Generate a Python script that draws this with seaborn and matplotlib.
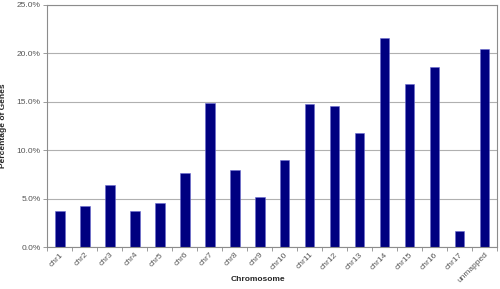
import matplotlib
matplotlib.use("Agg")
import matplotlib.pyplot as plt
import seaborn as sns
import pandas as pd
import numpy as np
from matplotlib.ticker import FuncFormatter, MultipleLocator, FixedLocator

categories = ["chr1", "chr2", "chr3", "chr4", "chr5", "chr6", "chr7", "chr8", "chr9",
              "chr10", "chr11", "chr12", "chr13", "chr14", "chr15", "chr16", "chr17", "unmapped"]
values = [3.7, 4.2, 6.4, 3.7, 4.6, 7.7, 14.9, 8.0, 5.2,
          9.0, 14.8, 14.6, 11.8, 21.6, 16.8, 18.6, 1.7, 20.5]

df = pd.DataFrame({"Chromosome": categories, "Pct": values})

sns.set_style("white")
plt.rcParams['font.family'] = ['Liberation Sans', 'DejaVu Sans']

fig = plt.figure(figsize=(5, 2.89), dpi=100)
ax = fig.add_axes([0.094, 0.145, 0.9, 0.838])
sns.barplot(data=df, x="Chromosome", y="Pct", color="#000080", width=0.4,
            saturation=1, ax=ax, edgecolor="#6b6bd0", linewidth=0.4)

ax.set_ylim(0, 25)
ax.set_xlim(-0.5, len(categories) - 0.5)
ax.yaxis.set_major_locator(MultipleLocator(5))
ax.yaxis.set_major_formatter(FuncFormatter(lambda v, p: f"{v:.1f}%"))
ax.xaxis.set_minor_locator(FixedLocator(np.arange(-0.5, len(categories), 1.0)))
ax.grid(axis="y", color="#b0b0b0", linewidth=0.8)
ax.set_axisbelow(True)
for s in ax.spines.values():
    s.set_color("#8c8c8c")
    s.set_linewidth(0.8)

ax.tick_params(axis="y", labelsize=6, colors="#8c8c8c", labelcolor="#555555", length=3, width=0.6, left=True, pad=1.5)
ax.tick_params(axis="x", which="major", labelsize=6, labelcolor="#555555", length=0, pad=3)
ax.tick_params(axis="x", which="minor", bottom=True, length=3, width=0.6, color="#8c8c8c")
plt.setp(ax.get_xticklabels(), rotation=45, ha="right", rotation_mode="anchor")
ax.set_xlabel("Chromosome", fontsize=6, fontweight="bold")
ax.set_ylabel("Percentage of Genes", fontsize=6, fontweight="bold")
ax.xaxis.set_label_coords(0.468, -0.118)
ax.yaxis.set_label_coords(-0.088, 0.5)

fig.savefig("out.png", dpi=100)
